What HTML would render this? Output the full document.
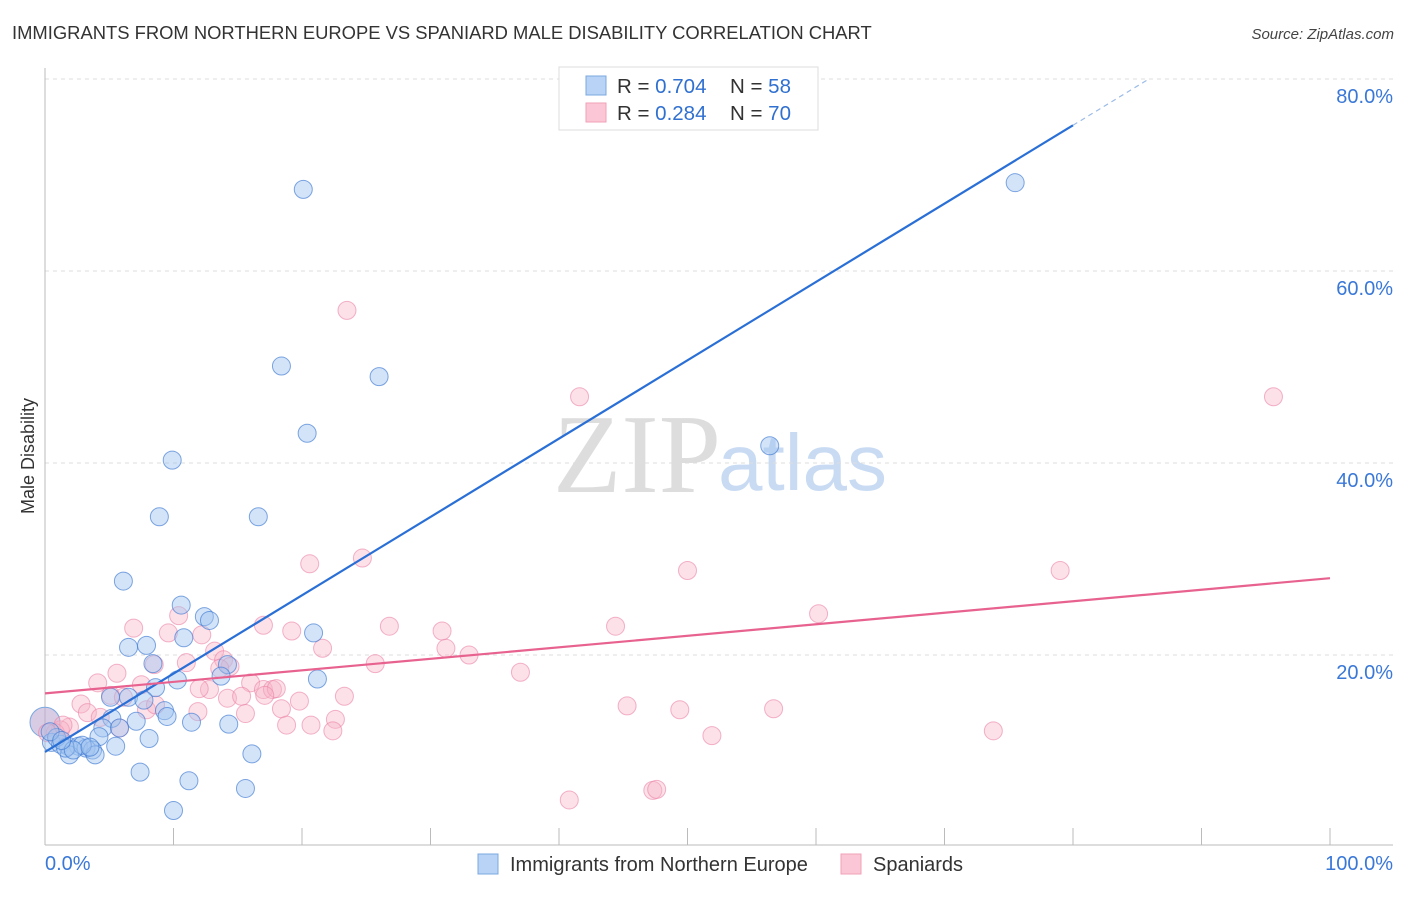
<!DOCTYPE html>
<html><head><meta charset="utf-8"><style>
body{margin:0;background:#fff;font-family:"Liberation Sans",sans-serif}
svg text{font-family:"Liberation Sans",sans-serif}
</style></head><body>
<svg id="chart" width="1406" height="892" xmlns="http://www.w3.org/2000/svg">
<text x="12" y="39" font-size="18.4" fill="#333">IMMIGRANTS FROM NORTHERN EUROPE VS SPANIARD MALE DISABILITY CORRELATION CHART</text>
<text x="1394" y="39" font-size="15" fill="#444" font-style="italic" text-anchor="end">Source: ZipAtlas.com</text>
<text transform="translate(34,456) rotate(-90)" font-size="18" fill="#333" text-anchor="middle">Male Disability</text>
<g>
<text x="553" y="492" font-size="112" fill="#ddd" font-family="Liberation Serif" style="font-family:'Liberation Serif',serif">ZIP</text>
<text x="718" y="490" font-size="80" fill="#c9dbf3">atlas</text>
</g>
<g id="grid"></g><g id="axes"></g><g id="pts"></g><g id="lines"></g>
<g>
<rect x="559" y="67" width="259" height="63" fill="#fff" stroke="#ddd"/>
<rect x="586" y="76" width="20" height="19" fill="#b8d3f5" stroke="#7aa8e0"/>
<rect x="586" y="103" width="20" height="19" fill="#fbc7d6" stroke="#f0a0b8"/>
<text x="617" y="93" font-size="20.5" fill="#333">R = <tspan fill="#3070d0">0.704</tspan><tspan x="730">N = </tspan><tspan fill="#3070d0">58</tspan></text>
<text x="617" y="120" font-size="20.5" fill="#333">R = <tspan fill="#3070d0">0.284</tspan><tspan x="730">N = </tspan><tspan fill="#3070d0">70</tspan></text>
</g>
<g>
<rect x="478" y="854" width="20" height="20" fill="#b8d3f5" stroke="#7aa8e0"/>
<text x="510" y="871" font-size="20" fill="#333">Immigrants from Northern Europe</text>
<rect x="841" y="854" width="20" height="20" fill="#fbc7d6" stroke="#f0a0b8"/>
<text x="873" y="871" font-size="20" fill="#333">Spaniards</text>
</g>
</svg>
<script>
const yTicks=[20,40,60,80];
const xTickLabels=["0.0%","100.0%"];
const blueX=[20.1,75.5,18.4,26.0,20.4,9.9,8.9,16.6,56.4,6.1,10.6,12.4,12.8,6.5,7.9,10.8,20.9,8.4,14.2,13.7,10.3,21.2,8.6,5.1,6.5,7.7,9.3,9.5,5.2,7.1,11.4,14.3,4.5,5.8,4.2,8.1,5.5,0.5,1.2,1.8,2.6,3.2,3.7,1.9,3.9,0.9,16.1,7.4,11.2,15.6,10.0,1.6,2.9,2.2,3.5,0.4,1.3];
const blueY=[68.5,69.2,50.1,49.0,43.1,40.3,34.4,34.4,41.8,27.7,25.2,24.0,23.6,20.8,21.0,21.8,22.3,19.1,19.0,17.8,17.4,17.5,16.6,15.6,15.6,15.3,14.2,13.6,13.4,13.1,13.0,12.8,12.4,12.4,11.5,11.3,10.5,10.9,10.7,10.5,10.5,10.3,10.1,9.6,9.6,11.4,9.7,7.8,6.9,6.1,3.8,10.3,10.6,10.1,10.4,12.0,11.1];
const pinkX=[23.5,41.6,95.6,24.7,20.6,50.0,79.0,60.2,6.9,10.4,9.6,12.2,17.0,19.2,26.8,30.9,44.4,21.6,31.2,33.0,13.2,13.9,14.4,11.0,8.5,5.6,37.0,25.7,4.1,7.5,12.8,16.0,17.0,17.7,18.0,5.1,6.1,12.0,14.2,15.3,19.8,23.3,2.8,7.9,45.3,49.4,56.7,15.6,18.4,3.3,4.3,22.6,18.8,20.7,22.4,51.9,73.8,1.9,1.2,0.8,40.8,47.3,47.6,0.2,11.9,5.8,17.1,13.6,8.6,1.4];
const pinkY=[55.9,46.9,46.9,30.1,29.5,28.8,28.8,24.3,22.8,24.1,22.3,22.1,23.1,22.5,23.0,22.5,23.0,20.7,20.7,20.0,20.4,19.5,18.8,19.2,19.0,18.1,18.2,19.1,17.1,16.9,16.4,17.1,16.4,16.4,16.5,15.8,15.6,16.5,15.5,15.7,15.2,15.7,14.9,14.3,14.7,14.3,14.4,13.9,14.4,14.0,13.5,13.3,12.7,12.7,12.1,11.6,12.1,12.5,12.2,11.9,4.9,5.9,6.0,11.9,14.1,12.4,15.8,18.6,14.8,12.7];
const blueTrend=[9.9,0.816];
const pinkTrend=[16.0,0.12];
const bigPoint=[0,13.0];

const NS="http://www.w3.org/2000/svg";
const X0=45,X1=1330,Y0=847,PY=9.6;
const sx=v=>X0+(X1-X0)*v/100, sy=v=>Y0-v*PY;
function mk(tag,attrs,parent){const e=document.createElementNS(NS,tag);for(const k in attrs)e.setAttribute(k,attrs[k]);document.getElementById(parent).appendChild(e);return e;}
yTicks.forEach(t=>{
 const g=mk('line',{x1:X0,x2:1393,y1:sy(t),y2:sy(t),stroke:'#ddd','stroke-dasharray':'4,4'},'grid');
 
 
 const l=mk('text',{x:1393,y:sy(t)+24,'font-size':20,fill:'#3a78d8','text-anchor':'end'},'grid');
 l.textContent=t.toFixed(1)+'%';
 
 
});
const ax=mk('line',{x1:X0,x2:1393,y1:845,y2:845,stroke:'#bbb'},'axes');


const ay=mk('line',{x1:X0,x2:X0,y1:68,y2:845,stroke:'#bbb'},'axes');


for(let i=1;i<=10;i++){const t=mk('line',{x1:sx(i*10),x2:sx(i*10),y1:828,y2:845,stroke:'#bbb'},'axes');
 
 }
xTickLabels.forEach((s,i)=>{const t=mk('text',{x:i?1393:X0,y:870,'font-size':20,fill:'#3a78d8','text-anchor':i?'end':'start'},'axes');t.textContent=s;
 
 });
const bp=mk('circle',{cx:sx(bigPoint[0]),cy:sy(bigPoint[1]),r:15,fill:'rgba(190,170,210,0.6)',stroke:'#7aa8e0'},'pts');


pinkX.forEach((x,i)=>{const c=mk('circle',{cx:sx(x),cy:sy(pinkY[i]),r:9,fill:'rgba(248,180,200,0.4)',stroke:'rgba(235,130,165,0.6)'},'pts');
 
 });
blueX.forEach((x,i)=>{const c=mk('circle',{cx:sx(x),cy:sy(blueY[i]),r:9,fill:'rgba(160,195,240,0.45)',stroke:'rgba(60,120,210,0.65)'},'pts');
 
 });
const bx=80, bxEnd=(80-blueTrend[0])/blueTrend[1];
const bl=mk('line',{x1:sx(0),y1:sy(blueTrend[0]),x2:sx(bx),y2:sy(blueTrend[0]+blueTrend[1]*bx),stroke:'#2a6fd6','stroke-width':2.2},'lines');


const bd=mk('line',{x1:sx(bx),y1:sy(blueTrend[0]+blueTrend[1]*bx),x2:sx(bxEnd),y2:sy(80),stroke:'#9bbbe8','stroke-width':1.2,'stroke-dasharray':'5,4'},'lines');


const pl=mk('line',{x1:sx(0),y1:sy(pinkTrend[0]),x2:sx(100),y2:sy(pinkTrend[0]+pinkTrend[1]*100),stroke:'#e8628f','stroke-width':2.2},'lines');


</script>
</body></html>
